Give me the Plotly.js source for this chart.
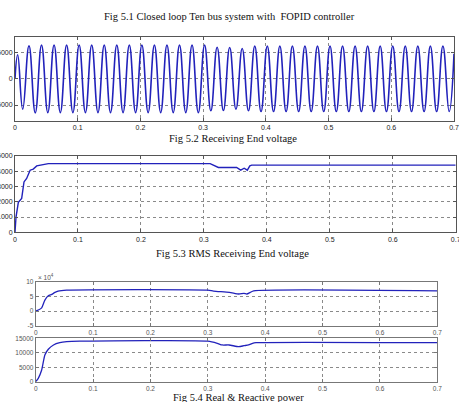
<!DOCTYPE html>
<html><head><meta charset="utf-8">
<script src="https://cdn.plot.ly/plotly-3.0.1.min.js"></script>
<style>html,body{margin:0;padding:0;background:#fff}#chart{width:459px;height:402px}</style>
</head><body><div id="chart"></div>
<script>
// Fig 5.2 Receiving End voltage: extrema of the 50 Hz waveform (time s, volts)
const vTime = [0, 0.0043, 0.0123, 0.0223, 0.0323, 0.0423, 0.0523, 0.0623, 0.0723, 0.0823, 0.0923,
  0.1023, 0.1123, 0.1223, 0.1323, 0.1423, 0.1523, 0.1623, 0.1723, 0.1823, 0.1923,
  0.2023, 0.2123, 0.2223, 0.2323, 0.2423, 0.2523, 0.2623, 0.2723, 0.2823, 0.2923,
  0.3023, 0.3123, 0.3223, 0.3323, 0.3423, 0.3523, 0.3623, 0.3723, 0.3823, 0.3923,
  0.4023, 0.4123, 0.4223, 0.4323, 0.4423, 0.4523, 0.4623, 0.4723, 0.4823, 0.4923,
  0.5023, 0.5123, 0.5223, 0.5323, 0.5423, 0.5523, 0.5623, 0.5723, 0.5823, 0.5923,
  0.6023, 0.6123, 0.6223, 0.6323, 0.6423, 0.6523, 0.6623, 0.6723, 0.6823, 0.6923, 0.7];
const vValue = [0, 4600, -5800, 6300, -6500, 6450, -6450, 6450, -6450, 6450, -6450,
  6450, -6450, 6450, -6450, 6450, -6450, 6450, -6450, 6450, -6450,
  6450, -6450, 6450, -6450, 6450, -6450, 6450, -6450, 6450, -6450,
  6450, -6100, 6050, -6050, 6000, -5800, 5800, -6100, 6250, -6250,
  6250, -6250, 6250, -6250, 6250, -6250, 6250, -6250, 6250, -6250,
  6250, -6250, 6250, -6250, 6250, -6250, 6250, -6250, 6250, -6250,
  6250, -6250, 6250, -6250, 6250, -6250, 6250, -6250, 6250, -6250, 4800];

// Fig 5.3 RMS Receiving End voltage
const rmsTime = [0, 0.0016, 0.0053, 0.0106, 0.0143, 0.0185, 0.024, 0.029, 0.0345, 0.042, 0.053,
  0.31, 0.323, 0.352, 0.3585, 0.364, 0.369, 0.373, 0.376, 0.7];
const rmsValue = [0, 1000, 1960, 2220, 3300, 3530, 4070, 4140, 4350, 4400, 4500,
  4500, 4250, 4250, 4070, 4200, 4070, 4350, 4400, 4400];

// Fig 5.4 Real power (W)
const pTime = [0, 0.0046, 0.0104, 0.016, 0.022, 0.028, 0.0336, 0.039, 0.054, 0.30, 0.31, 0.3375,
  0.354, 0.363, 0.368, 0.374, 0.38, 0.7];
const pValue = [0, 3400, 11000, 37400, 52000, 56800, 63600, 68000, 71400, 71400, 68000, 63600,
  58000, 60000, 58000, 63600, 69000, 69000];

// Fig 5.4 Reactive power (VAr)
const qTime = [0, 0.0045, 0.0104, 0.016, 0.022, 0.031, 0.042, 0.054, 0.077, 0.30, 0.3165, 0.325,
  0.337, 0.354, 0.363, 0.371, 0.378, 0.384, 0.7];
const qValue = [0, 1170, 4040, 9230, 11200, 12690, 13480, 13820, 14000, 14000, 13270, 12690,
  12690, 12100, 12440, 12690, 13270, 13480, 13480];

const xTicks = [0, 0.1, 0.2, 0.3, 0.4, 0.5, 0.6, 0.7];
const xTickText = ['0', '0.1', '0.2', '0.3', '0.4', '0.5', '0.6', '0.7'];

const W = 459, H = 402;
const fx = p => p / W;
const fy = p => 1 - p / H;

const lineBlue = '#2222bb';
const traces = [
  {x: vTime, y: vValue, xaxis: 'x', yaxis: 'y', mode: 'lines',
   line: {color: lineBlue, width: 1.6, shape: 'spline', smoothing: 1.3}},
  {x: rmsTime, y: rmsValue, xaxis: 'x2', yaxis: 'y2', mode: 'lines',
   line: {color: lineBlue, width: 1.4}},
  {x: pTime, y: pValue, xaxis: 'x3', yaxis: 'y3', mode: 'lines',
   line: {color: lineBlue, width: 1.3, shape: 'spline', smoothing: 0.6}},
  {x: qTime, y: qValue, xaxis: 'x4', yaxis: 'y4', mode: 'lines',
   line: {color: lineBlue, width: 1.3, shape: 'spline', smoothing: 0.6}}
];

function ax(extra, small) {
  return Object.assign({
    showline: true, mirror: 'ticks', linecolor: small ? '#777' : '#555', linewidth: 1,
    ticks: 'inside', ticklen: 3, tickcolor: small ? '#777' : '#555',
    showgrid: true, gridcolor: '#8a8a8a', griddash: 'dot', gridwidth: 1,
    zeroline: false, fixedrange: true, ticklabeloverflow: 'allow',
    tickfont: {family: 'Liberation Sans, Arial, sans-serif', size: small ? 6.5 : 7, color: small ? '#555' : '#222'}
  }, extra);
}
const xBase = {tickmode: 'array', tickvals: xTicks, ticktext: xTickText, range: [0, 0.7]};

const capFont = {family: 'Liberation Serif, Times New Roman, serif', size: 10.5, color: '#111'};
const layout = {
  width: W, height: H, margin: {l: 0, r: 0, t: 0, b: 0},
  paper_bgcolor: '#fff', plot_bgcolor: '#fff', showlegend: false,
  xaxis: ax(Object.assign({}, xBase, {domain: [fx(15), fx(454)], anchor: 'y'})),
  yaxis: ax({domain: [fy(120.7), fy(37)], anchor: 'x', range: [-8000, 8000],
    tickmode: 'array', tickvals: [-5000, 0, 5000], ticktext: ['-5000', '0', '5000']}),
  xaxis2: ax(Object.assign({}, xBase, {domain: [fx(15), fx(455.7)], anchor: 'y2'})),
  yaxis2: ax({domain: [fy(232.3), fy(156)], anchor: 'x2', range: [0, 5000],
    tickmode: 'array', tickvals: [0, 1000, 2000, 3000, 4000, 5000],
    ticktext: ['0', '1000', '2000', '3000', '4000', '5000']}),
  xaxis3: ax(Object.assign({}, xBase, {domain: [fx(35.7), fx(437.3)], anchor: 'y3'}), true),
  yaxis3: ax({domain: [fy(325.7), fy(281.7)], anchor: 'x3', range: [-50000, 100000],
    tickmode: 'array', tickvals: [-50000, 0, 50000, 100000], ticktext: ['-5', '0', '5', '10']}, true),
  xaxis4: ax(Object.assign({}, xBase, {domain: [fx(35.7), fx(437.3)], anchor: 'y4'}), true),
  yaxis4: ax({domain: [fy(381.7), fy(338.3)], anchor: 'x4', range: [0, 15000],
    tickmode: 'array', tickvals: [0, 5000, 10000, 15000], ticktext: ['0', '5000', '10000', '15000']}, true),
  annotations: [
    {text: 'Fig 5.1 Closed loop Ten bus system with  FOPID controller', xref: 'paper', yref: 'paper',
     x: fx(230), y: fy(16), xanchor: 'center', yanchor: 'middle', showarrow: false, font: capFont},
    {text: 'Fig 5.2 Receiving End voltage', xref: 'paper', yref: 'paper',
     x: fx(233), y: fy(138), xanchor: 'center', yanchor: 'middle', showarrow: false, font: capFont},
    {text: 'Fig 5.3 RMS Receiving End voltage', xref: 'paper', yref: 'paper',
     x: fx(232), y: fy(253), xanchor: 'center', yanchor: 'middle', showarrow: false, font: capFont},
    {text: 'Fig 5.4 Real &amp; Reactive power', xref: 'paper', yref: 'paper',
     x: fx(238), y: fy(397), xanchor: 'center', yanchor: 'middle', showarrow: false, font: capFont},
    {text: '× 10<sup>4</sup>', xref: 'paper', yref: 'paper',
     x: fx(36), y: fy(277), xanchor: 'left', yanchor: 'middle', showarrow: false,
     font: {family: 'Liberation Sans, Arial, sans-serif', size: 6.5, color: '#555'}}
  ]
};

Plotly.newPlot('chart', traces, layout, {staticPlot: true, displayModeBar: false});
</script></body></html>
